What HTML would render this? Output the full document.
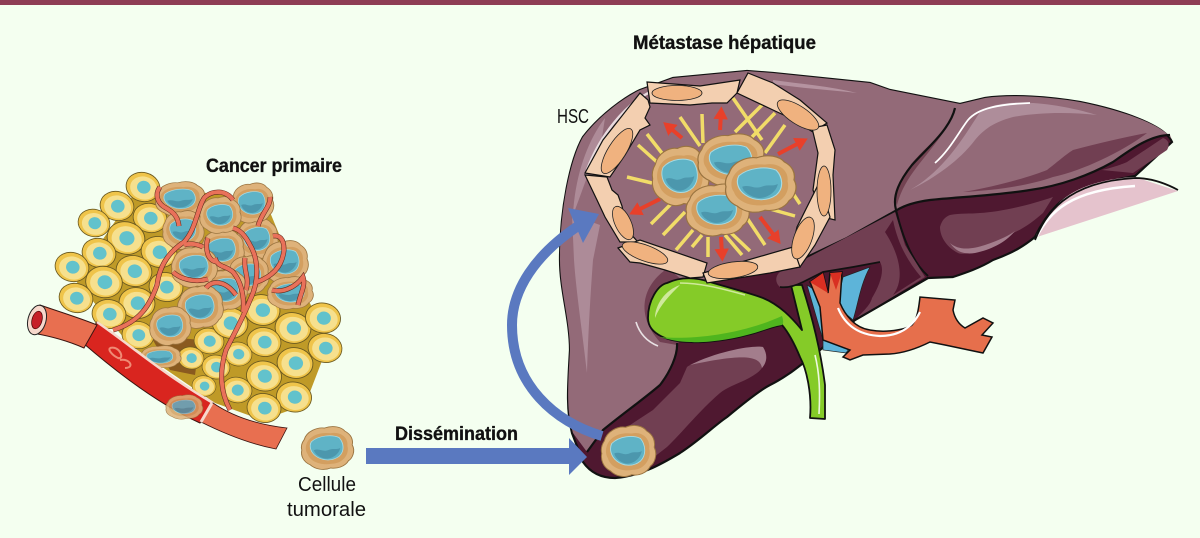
<!DOCTYPE html>
<html><head><meta charset="utf-8"><style>
html,body{margin:0;padding:0;background:#f4fff0}
svg{display:block}
text{font-family:"Liberation Sans Narrow","Liberation Sans",sans-serif;fill:#111}
.b{font-weight:700;stroke:#111;stroke-width:.35px}
</style></head><body>
<svg width="1200" height="538" viewBox="0 0 1200 538" xmlns="http://www.w3.org/2000/svg">
<defs>
<g id="y">
<ellipse rx="20" ry="17" fill="#efc44a" stroke="#6b5a20" stroke-width="1"/>
<ellipse rx="16" ry="13.5" cx="1" cy="1" fill="#f6e08e"/>
<ellipse rx="8" ry="7.5" cx="1" fill="#62c2cc"/>
</g>
<g id="t">
<path d="M-19,-8 C-17,-16 -8,-20 -2,-19 C5,-22 12,-20 15,-16 C20,-13 22,-8 21,-3 C24,3 21,10 18,12 C15,18 8,20 3,19 C-3,22 -10,20 -14,16 C-20,13 -22,7 -21,2 C-22,-2 -21,-5 -19,-8Z" fill="#deb27a" stroke="#9a7440" stroke-width=".8"/>
<path d="M-17,-4 C-14,-13 -4,-15 3,-14 C11,-16 18,-10 17,-2 C19,6 13,15 4,15 C-5,17 -14,13 -16,6 C-18,3 -18,-1 -17,-4Z" fill="#d39f60"/>
<path d="M-13,-6 C-7,-12 4,-13 10,-10 C14,-5 15,3 10,8 C4,13 -4,12 -9,8 C-14,4 -15,-2 -13,-6Z" fill="#5fb3c6" stroke="#a8dbe3" stroke-width=".7"/>
<path d="M-11,2 C-6,0 -4,4 1,2 C5,0 8,2 11,0 C10,6 4,11 -2,10 C-6,9 -10,6 -11,2Z" fill="#4c97ad"/>
</g>
<marker id="ah" markerWidth="4" markerHeight="4" refX="1.3" refY="2" orient="auto"><path d="M0,.2 L3.2,2 L0,3.8Z" fill="#e8402a"/></marker>
<path id="c1" d="M113,330 C140,322 150,305 157,285 C160,262 172,250 184,242 C196,230 198,205 205,197 C213,190 226,190 233,200 M184,245 C190,243 197,244 203,247 M160,187 C154,195 158,204 166,208 C175,213 178,218 179,226 M230,410 C222,395 218,375 226,350 C236,330 243,318 250,300 C260,280 258,258 250,245 C245,235 240,230 233,228 M243,312 C245,295 240,280 233,272 C225,265 218,268 215,258 M257,282 C268,278 282,270 284,250 C284,238 279,235 273,236 M270,197 C271,206 262,212 258,226 M272,290 C282,293 295,288 303,277 C306,285 300,295 298,305 M173,272 C180,279 195,283 208,279 M206,288 C212,280 225,280 236,295 M218,262 C206,262 205,245 208,238 M245,258 C243,270 250,278 246,290"/>
</defs>

<rect width="1200" height="538" fill="#f4fff0"/>
<rect width="1200" height="5" fill="#8e3d55"/>

<!-- primary tumour -->
<path d="M75,280 L140,185 L265,200 L300,285 L330,340 L305,405 L262,420 L215,403 L130,345Z" fill="#bf9a27"/>
<path d="M150,335 L200,340 L195,375 L170,370Z" fill="#8a5a1f"/>
<g>
<use href="#y" transform="translate(143,187) rotate(15) scale(.85)"/>
<use href="#y" transform="translate(117,206) rotate(15) scale(.85)"/>
<use href="#y" transform="translate(94,223) rotate(15) scale(.8)"/>
<use href="#y" transform="translate(150,218) rotate(15) scale(.85)"/>
<use href="#y" transform="translate(126,238) rotate(15) scale(.95)"/>
<use href="#y" transform="translate(99,253) rotate(15) scale(.85)"/>
<use href="#y" transform="translate(159,252) rotate(15) scale(.9)"/>
<use href="#y" transform="translate(72,267) rotate(15) scale(.85)"/>
<use href="#y" transform="translate(134,271) rotate(15) scale(.9)"/>
<use href="#y" transform="translate(104,282) rotate(10) scale(.92)"/>
<use href="#y" transform="translate(76,298) rotate(15) scale(.85)"/>
<use href="#y" transform="translate(137,303) rotate(10) scale(.9)"/>
<use href="#y" transform="translate(109,314) rotate(10) scale(.85)"/>
<use href="#y" transform="translate(166,287) rotate(10) scale(.85)"/>
<use href="#y" transform="translate(138,335) rotate(10) scale(.8)"/>
<use href="#y" transform="translate(209,341) rotate(10) scale(.75)"/>
<use href="#y" transform="translate(230,323) rotate(10) scale(.9)"/>
<use href="#y" transform="translate(262,310) rotate(10) scale(.9)"/>
<use href="#y" transform="translate(293,328) rotate(10) scale(.9)"/>
<use href="#y" transform="translate(323,318) rotate(10) scale(.88)"/>
<use href="#y" transform="translate(264,342) rotate(10) scale(.85)"/>
<use href="#y" transform="translate(325,348) rotate(10) scale(.85)"/>
<use href="#y" transform="translate(295,363) rotate(10) scale(.9)"/>
<use href="#y" transform="translate(238,354) rotate(10) scale(.7)"/>
<use href="#y" transform="translate(191,358) rotate(10) scale(.65)"/>
<use href="#y" transform="translate(216,367) rotate(10) scale(.7)"/>
<use href="#y" transform="translate(264,376) rotate(10) scale(.88)"/>
<use href="#y" transform="translate(204,386) rotate(10) scale(.6)"/>
<use href="#y" transform="translate(237,390) rotate(10) scale(.75)"/>
<use href="#y" transform="translate(294,397) rotate(10) scale(.88)"/>
<use href="#y" transform="translate(264,408) rotate(10) scale(.85)"/>
</g>
<g>
<use href="#t" transform="translate(180,199) scale(1.15,.85)"/>
<use href="#t" transform="translate(183,230) scale(.95)"/>
<use href="#t" transform="translate(257,239) scale(.95,1)"/>
<use href="#t" transform="translate(222,250) scale(1)"/>
<use href="#t" transform="translate(252,203) scale(.98)"/>
<use href="#t" transform="translate(220,215) scale(.95,.9)"/>
<use href="#t" transform="translate(285,262) scale(1.05)"/>
<use href="#t" transform="translate(248,275) scale(.95)"/>
<use href="#t" transform="translate(225,290) scale(1)"/>
<use href="#t" transform="translate(194,267) scale(1.05,1)"/>
<use href="#t" transform="translate(290,293) scale(1.05,.8)"/>
<use href="#t" transform="translate(200,307) scale(1.05)"/>
<use href="#t" transform="translate(170,326) scale(.95)"/>
<use href="#t" transform="translate(160,357) scale(.95,.55)"/>
</g>

<!-- vessel -->
<path d="M83,343 L97,322 C130,345 165,375 213,403 L200,423 C160,405 120,375 83,343Z" fill="#d9251f" stroke="#3a1410" stroke-width="1"/>
<path d="M97,322 C130,345 165,375 213,403" fill="none" stroke="#f6d9cd" stroke-width="2.5"/>
<path d="M110,348 C120,345 125,360 118,358 C112,355 108,350 110,348 M120,360 C130,358 135,368 125,368" fill="none" stroke="#f08a75" stroke-width="2"/>
<use href="#t" transform="translate(184,407) scale(.85,.6)" opacity=".85"/>
<path d="M40,305 C60,312 80,318 97,325 L84,348 C66,340 50,336 32,333Z" fill="#e86f50" stroke="#3a1410" stroke-width="1"/>
<ellipse cx="37" cy="320" rx="9" ry="15" transform="rotate(15 37 320)" fill="#f7d8cc" stroke="#222" stroke-width="1"/>
<ellipse cx="37" cy="320" rx="5" ry="9" transform="rotate(15 37 320)" fill="#c61f28" stroke="#400" stroke-width=".7"/>
<path d="M213,403 C235,418 260,425 287,428 L276,449 C250,444 225,434 201,422Z" fill="#e86f50" stroke="#3a1410" stroke-width=".8"/>
<path d="M212,403 L201,422" stroke="#f7d8cc" stroke-width="3"/>

<!-- capillaries -->
<use href="#c1" fill="none" stroke="#5e2a1d" stroke-width="5"/>
<use href="#c1" fill="none" stroke="#e9715a" stroke-width="3.9"/>

<!-- circulating cell -->
<use href="#t" transform="translate(327,448) scale(1.2,1.05)"/>

<!-- liver -->
<path id="lv" d="M1172,142 C1165,125 1120,110 1080,102 C1050,97 1013,94 985,98 L960,104 L890,90 L870,83 L773,73 L747,71 L673,78 L640,90 C625,97 600,115 583,137 C570,160 560,210 560,260 C560,290 570,320 570,350 C568,385 566,410 572,433 L583,462 C590,472 600,478 615,478 C640,476 660,465 680,453 C700,440 715,425 727,417 C745,402 760,390 770,385 C790,375 800,365 820,350 L855,320 L928,278 L953,277 C965,273 980,268 993,260 C1015,252 1025,245 1035,237 C1042,222 1050,212 1057,205 C1070,192 1100,182 1135,176 Z" fill="#4f1830" stroke="#111" stroke-width="2.2"/>
<path d="M1170,135 C1150,135 1130,150 1113,162 C1090,175 1060,186 1030,190 C1000,195 960,197 930,200 C915,202 905,205 897,210 L847,238 L807,257 L780,270 L700,280 L677,343 C678,355 670,372 660,385 C645,398 625,412 603,430 L587,452 L573,433 C566,410 568,385 570,350 C570,320 560,290 560,260 C560,210 570,160 583,137 C600,115 625,97 640,90 L673,78 L747,71 L773,73 L870,83 L890,90 L960,104 L985,98 C1013,94 1050,97 1080,102 C1120,110 1165,125 1172,140Z" fill="#936a78"/>
<!-- light highlights -->
<path d="M572,215 L600,225 L593,260 C590,300 588,340 587,373 C582,330 576,290 574,260Z" fill="#ad8b98"/>
<path d="M605,118 C588,140 575,175 573,215 C583,190 590,165 600,150Z" fill="#ae8b98"/>
<path d="M773,80 C800,84 830,86 857,93 C830,90 800,88 773,84Z" fill="#b593a0"/>
<path d="M910,190 C945,170 965,135 980,112 C995,102 1015,102 1033,103 C1060,105 1080,110 1097,115 C1070,112 1040,112 1013,117 C995,122 985,128 975,140 C960,160 935,178 910,190Z" fill="#ae8d9a"/>
<path d="M935,163 C950,150 960,130 968,120 C978,108 1000,104 1030,103" fill="none" stroke="#fff" stroke-width="1.8"/>
<path d="M587,170 C600,135 625,105 650,92" fill="none" stroke="#e8dade" stroke-width="2.5"/>
<!-- mid tones -->
<path d="M963,192 C1000,186 1035,175 1047,170 C1060,160 1065,155 1073,150 C1100,143 1125,137 1147,133 C1125,150 1085,170 1053,177 C1030,185 1000,190 963,192Z" fill="#713f52"/>
<path d="M895,200 C898,170 925,150 945,130 C925,160 905,175 897,205Z" fill="#734352"/>
<path d="M1102,170 C1115,167 1125,163 1127,162 L1163,138 C1169,140 1170,145 1167,150 L1133,173Z" fill="#713f52"/>
<path d="M940,227 C942,220 945,217 950,215 C960,213 970,214 980,213 C1000,212 1030,205 1053,197 L1043,213 C1035,220 1025,228 1013,233 C1000,242 990,248 980,250 C970,253 962,255 958,253 C948,248 940,238 940,227Z" fill="#713f52"/>
<path d="M950,243 C958,250 970,250 985,245 C1000,240 1010,235 1015,231 C1005,243 990,250 975,253 C962,255 955,250 950,243Z" fill="#a37d8c"/>
<path d="M687,367 C700,358 750,345 763,347 C768,355 767,365 757,373 C745,382 730,385 720,393 C700,410 680,435 667,447 L640,468 L610,440 L627,427 L653,410 L680,383Z" fill="#713f52"/>
<path d="M690,365 C720,350 755,345 763,347 C768,355 767,362 762,368 C760,356 745,353 690,365Z" fill="#a37d8c"/>
<!-- halo around gallbladder -->
<path d="M668,268 C642,285 635,315 660,342 L677,345 L705,300Z" fill="#713f52"/>
<path d="M636,322 C640,335 648,342 658,346" fill="none" stroke="#fff" stroke-width="1.6" opacity=".8"/>
<!-- lobe lines -->
<path d="M955,108 C950,130 925,150 912,165 C900,180 892,195 896,210" fill="none" stroke="#111" stroke-width="2.2"/>
<path d="M1170,135 C1150,135 1130,150 1113,162 C1090,175 1060,186 1030,190 C1000,195 960,197 930,200 C915,202 905,205 897,210 L847,238 L807,257" fill="none" stroke="#111" stroke-width="2.2"/>
<path d="M896,210 C902,235 912,262 928,276" fill="none" stroke="#111" stroke-width="2"/>
<path d="M677,343 C678,355 670,372 660,385 C645,398 625,412 603,430 L587,452" fill="none" stroke="#111" stroke-width="2.2"/>
<path d="M1135,177 C1110,178 1075,185 1057,205 C1048,215 1042,228 1037,237 L1178,191Z" fill="#e5c3cd"/>
<path d="M1037,236 C1050,212 1070,190 1135,186" fill="none" stroke="#fff" stroke-width="2.5"/>
<path d="M1035,240 C1045,215 1065,182 1135,178 C1150,178 1165,183 1178,190" fill="none" stroke="#111" stroke-width="1.8"/>

<!-- portal / artery -->
<path d="M807,285 L823,340 L823,350 L846,353 L852,345 L838,300 L843,277 L870,267 C860,285 858,305 853,320 L830,300Z" fill="#5db4d9" stroke="#222" stroke-width=".7"/>
<path d="M810,282 L823,273 L828,293 L830,273 L842,272 L840,303 C845,315 855,328 870,330 C885,333 905,330 912,325 C918,318 919,305 920,297 L955,300 L953,310 C955,320 960,325 965,328 L983,318 L993,323 L982,335 L992,337 L983,353 L945,345 L930,342 C920,347 905,353 890,354 L863,355 L850,360 L843,357 L850,350 L823,340 L820,307Z" fill="#e66f4c" stroke="#111" stroke-width="1.5"/>
<path d="M810,282 L823,273 L828,293 Z M830,273 L842,272 L836,290Z" fill="#d92f22"/>
<path d="M838,308 C845,325 858,335 880,336 C898,336 912,328 920,312" fill="none" stroke="#fff" stroke-width="2.2"/>

<!-- gallbladder + duct -->
<path d="M648,318 C648,300 658,285 667,283 C680,277 695,277 710,282 C730,288 750,293 763,298 C780,305 792,318 802,330 L791,285 L802,285 C810,310 820,345 825,385 L825,419 L810,418 C812,395 807,370 800,357 C795,345 788,332 782,325 C770,327 760,332 747,335 C725,341 700,343 690,342 C670,342 648,335 648,318Z" fill="#85cb28" stroke="#111" stroke-width="1.8" stroke-linejoin="round"/>
<path d="M660,337 C690,340 740,335 782,316 C784,322 783,324 782,325 C770,327 760,332 747,335 C725,341 700,343 690,342 C680,342 670,340 660,337Z" fill="#4fb51e"/>
<path d="M655,318 C655,305 665,290 680,285 C670,295 660,305 655,318Z" fill="#cfe99b"/>
<path d="M680,283 C700,283 720,288 745,295" fill="none" stroke="#cfe99b" stroke-width="1.5"/>
<path d="M815,355 C820,375 820,395 819,414" fill="none" stroke="#fff" stroke-width="1.6" opacity=".85"/>

<!-- lobe in front of ducts -->
<path d="M780,272 L807,258 L895,212 L905,245 L925,277 L855,320 C862,312 870,306 872,298 C880,285 885,270 880,262 L853,267 L823,272 L803,282 C795,286 787,288 780,287 C775,283 775,276 780,272Z" fill="#713f52"/>
<path d="M893,220 C897,240 905,258 921,277 L893,295 C905,280 900,255 885,232Z" fill="#4f1830"/>
<path d="M780,287 C787,288 795,286 803,282 L823,272 L853,267 L880,262" fill="none" stroke="#111" stroke-width="1.8"/>
<path d="M855,320 L928,278" fill="none" stroke="#111" stroke-width="2"/>

<!-- rays -->
<g stroke="#f1dc68" stroke-width="3.5" stroke-linecap="butt">
<path d="M627,177L652,183M638,145L658,163M647,134L665,157M680,117L700,146M702,114L703,143M733,98L762,140M763,104L735,132M775,113L752,137M785,125L765,153M651,224L671,204M663,235L685,212M676,250L693,230M692,247L702,235M708,237L708,257M725,235L742,255M730,232L750,251M747,218L765,245M770,209L795,216M792,192L800,204"/>
</g>
<!-- red arrows -->
<g stroke="#e8402a" stroke-width="4" fill="none">
<path d="M682,138L669,127" marker-end="url(#ah)"/>
<path d="M720,130L721,114" marker-end="url(#ah)"/>
<path d="M778,154L801,142" marker-end="url(#ah)"/>
<path d="M660,199L636,211" marker-end="url(#ah)"/>
<path d="M760,217L776,238" marker-end="url(#ah)"/>
<path d="M721,237L722,254" marker-end="url(#ah)"/>
</g>
<!-- tumour cluster -->
<use href="#t" transform="translate(680,176) scale(1.3,1.45)"/>
<use href="#t" transform="translate(731,160) scale(1.55,1.28)"/>
<use href="#t" transform="translate(717,210) scale(1.45,1.27)"/>
<use href="#t" transform="translate(760,184) scale(1.62,1.38)"/>

<!-- HSC ring -->
<g fill="#f3cfb0" stroke="#111" stroke-width="1.2" stroke-linejoin="miter">
<path d="M585,175 L607,177 L612,190 L618,195 L622,206 L627,230 L638,242 L620,242 L605,217 L597,200Z"/>
<path d="M585,173 L603,140 L640,93 L648,100 L650,107 L645,118 L650,125 L640,130 L625,155 L610,177Z"/>
<path d="M618,248 L640,240 L707,263 L703,277 L690,278 L665,270 L640,263 L630,262Z"/>
<path d="M647,82 L700,86 L740,80 L737,93 L727,103 L712,103 L690,105 L650,103Z"/>
<path d="M748,73 L773,83 L800,100 L827,123 L813,132 L790,118 L773,110 L737,93Z"/>
<path d="M812,128 L827,125 L835,150 L833,175 L835,220 L823,217 L813,190 L818,153Z"/>
<path d="M817,187 L825,200 L830,217 L815,245 L800,267 L790,257 L797,227Z"/>
<path d="M703,273 L793,247 L800,267 L770,273 L707,283Z"/>
</g>
<g fill="#f0b27f" stroke="#222" stroke-width=".8">
<ellipse cx="677" cy="93" rx="25" ry="7.5"/>
<ellipse cx="798" cy="115" rx="24" ry="9" transform="rotate(33 798 115)"/>
<ellipse cx="824" cy="191" rx="7" ry="25"/>
<ellipse cx="803" cy="238" rx="9" ry="22" transform="rotate(20 803 238)"/>
<ellipse cx="733" cy="270" rx="25" ry="8" transform="rotate(-8 733 270)"/>
<ellipse cx="645" cy="253" rx="24" ry="8" transform="rotate(20 645 253)"/>
<ellipse cx="623" cy="223" rx="8" ry="18" transform="rotate(-25 623 223)"/>
<ellipse cx="617" cy="151" rx="9" ry="26" transform="rotate(32 617 151)"/>
</g>

<!-- blue arrows -->
<path d="M602,436 C555,422 512,385 512,325 C512,290 535,255 578,226" fill="none" stroke="#5a79c0" stroke-width="10"/>
<path d="M599,214 L568,208 L583,243Z" fill="#5a79c0"/>
<path d="M366,448 H569 V438 L587,457 L569,475 V464 H366Z" fill="#5a79c0"/>

<!-- liver metastasis -->
<use href="#t" transform="translate(628,451) scale(1.25)"/>

<!-- labels -->
<text class="b" x="633" y="49" font-size="19" textLength="183" lengthAdjust="spacingAndGlyphs">Métastase hépatique</text>
<text class="b" x="206" y="172" font-size="19" textLength="136" lengthAdjust="spacingAndGlyphs">Cancer primaire</text>
<text class="b" x="395" y="440" font-size="19" textLength="123" lengthAdjust="spacingAndGlyphs">Dissémination</text>
<text x="557" y="123" font-size="20" textLength="32" lengthAdjust="spacingAndGlyphs">HSC</text>
<text x="298" y="491" font-size="20" textLength="58" lengthAdjust="spacingAndGlyphs">Cellule</text>
<text x="287" y="516" font-size="20" textLength="79" lengthAdjust="spacingAndGlyphs">tumorale</text>
</svg>
</body></html>
